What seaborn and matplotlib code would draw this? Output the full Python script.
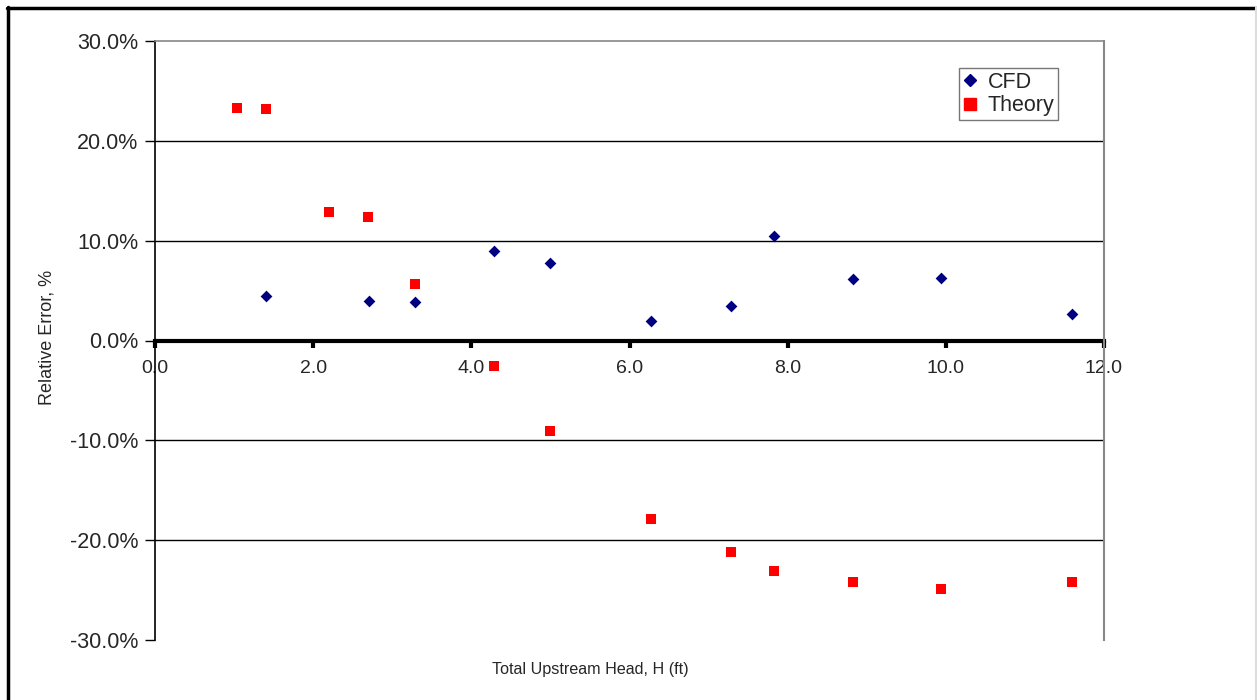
import matplotlib
matplotlib.use("Agg")
import matplotlib.pyplot as plt
import seaborn as sns
import pandas as pd
from matplotlib.lines import Line2D

sns.set_theme(style="white")
plt.rcParams['font.family'] = ['Liberation Sans', 'DejaVu Sans']

cfd_h = [1.40, 2.71, 3.29, 4.29, 4.99, 6.27, 7.28, 7.83, 8.83, 9.94, 11.60]
cfd_err = [4.5, 4.0, 3.9, 9.0, 7.8, 2.0, 3.5, 10.5, 6.2, 6.3, 2.7]
theory_h = [1.04, 1.40, 2.20, 2.69, 3.29, 4.29, 4.99, 6.27, 7.28, 7.83, 8.83, 9.94, 11.60]
theory_err = [23.3, 23.2, 12.9, 12.4, 5.7, -2.6, -9.1, -17.9, -21.2, -23.1, -24.2, -24.9, -24.2]
y_ticks = [-30, -20, -10, 0, 10, 20, 30]
x_ticks = [0, 2, 4, 6, 8, 10, 12]

df = pd.concat([
    pd.DataFrame({"H": cfd_h, "err": cfd_err, "series": "CFD"}),
    pd.DataFrame({"H": theory_h, "err": theory_err, "series": "Theory"}),
])

fig = plt.figure(figsize=(12.57, 7.0), dpi=100)
ax = fig.add_axes([155/1257, 60/700, 949/1257, 599/700])

for y in [-20, -10, 10, 20]:
    ax.axhline(y, color="black", lw=1.0, zorder=1)

sns.scatterplot(data=df[df.series == "Theory"], x="H", y="err", ax=ax,
                marker="s", color="#ff0000", s=55, linewidth=0, zorder=3, legend=False)
sns.scatterplot(data=df[df.series == "CFD"], x="H", y="err", ax=ax,
                marker="D", color="#000080", s=36, linewidth=0, zorder=3, legend=False)

ax.set_xlim(0, 12)
ax.set_ylim(-30, 30)
ax.set_yticks(y_ticks)
ax.set_yticklabels([f"{v:.1f}%" for v in y_ticks])
ax.set_xticks(x_ticks)
ax.set_xticklabels([f"{v:.1f}" for v in x_ticks])

ax.spines['bottom'].set_position(('data', 0))
ax.spines['bottom'].set_linewidth(3.0)
ax.spines['bottom'].set_color("black")
ax.spines['bottom'].set_zorder(2)
ax.spines['left'].set_color("black")
ax.spines['left'].set_linewidth(1.2)
ax.spines['top'].set_color("#888888")
ax.spines['top'].set_linewidth(1.2)
ax.spines['right'].set_color("#888888")
ax.spines['right'].set_linewidth(1.5)

ax.tick_params(axis='y', which='both', left=True, length=7, width=1, color='black',
               labelsize=15.5, pad=5, direction='out')
ax.tick_params(axis='x', which='both', bottom=True, length=5, width=3, color='black',
               labelsize=14, pad=9, direction='out')

ax.set_xlabel("Total Upstream Head, H (ft)", fontsize=11.6)
ax.xaxis.set_label_coords(0.459, -0.037)
ax.set_ylabel("Relative Error, %", fontsize=13)
ax.yaxis.set_label_coords(-0.1045, 0.505)

handles = [
    Line2D([], [], marker="D", color="#000080", linestyle="none", markersize=6),
    Line2D([], [], marker="s", color="#ff0000", linestyle="none", markersize=8),
]
leg = ax.legend(handles, ["CFD", "Theory"], loc="upper left",
                bbox_to_anchor=(0.847, 0.955), frameon=True, fancybox=False,
                fontsize=15.5, handlelength=0.7, handletextpad=0.45,
                borderpad=0.18, labelspacing=0.12, borderaxespad=0)
leg.get_frame().set_edgecolor("#555555")
leg.get_frame().set_linewidth(1.0)

# outer frame
fig.add_artist(Line2D([7/1257, 1257/1257], [1 - 7.5/700, 1 - 7.5/700],
                      transform=fig.transFigure, color="black", lw=2.5))
fig.add_artist(Line2D([7.5/1257, 7.5/1257], [0, 1 - 7/700],
                      transform=fig.transFigure, color="black", lw=2.5))
fig.add_artist(Line2D([1255.5/1257, 1255.5/1257], [0, 1 - 7/700],
                      transform=fig.transFigure, color="#dddddd", lw=1.5))

fig.savefig("out.png", dpi=100, facecolor="white")
